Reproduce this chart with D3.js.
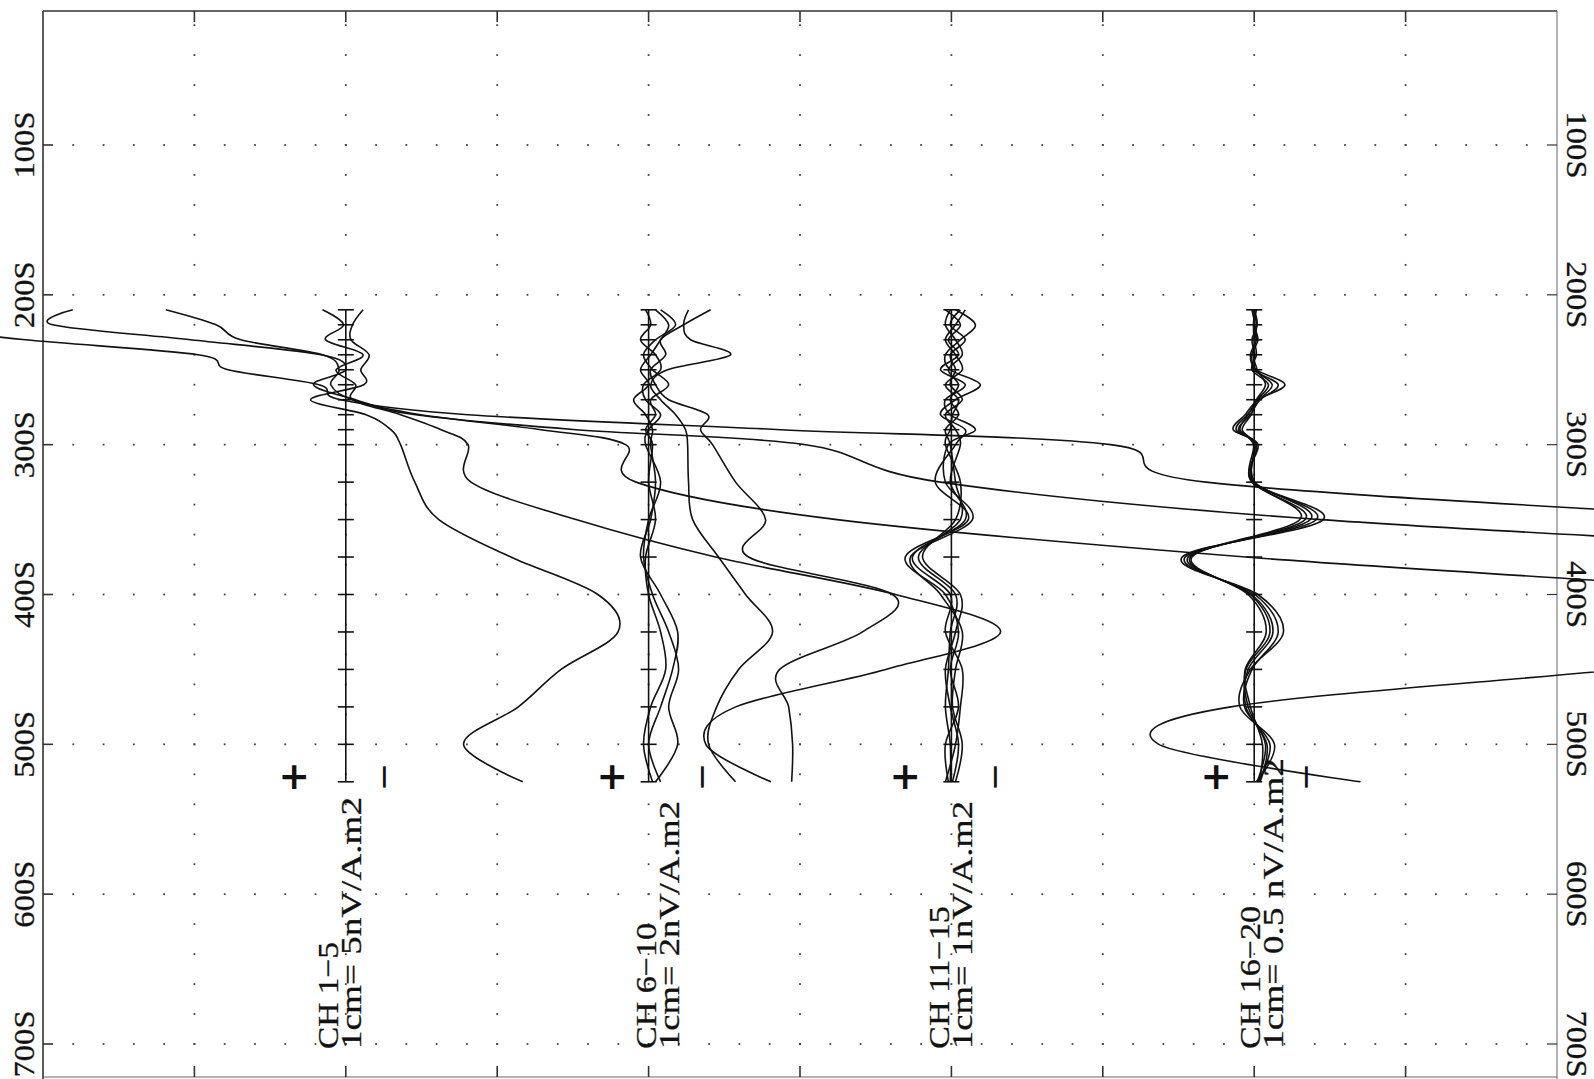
<!DOCTYPE html>
<html><head><meta charset="utf-8">
<script src="https://cdn.jsdelivr.net/npm/d3@7"></script>
<style>html,body{margin:0;padding:0;background:#fff;} svg{display:block;}</style>
</head><body>
<svg id="chart" width="1594" height="1079"></svg>
<script>
// ---- data ----
const stations = [210,220,230,240,250,260,270,280,290,300,325,350,375,400,425,450,475,500,525];
const rowStations = [100,200,300,400,500,600,700];
const rowLabels = ["100S","200S","300S","400S","500S","600S","700S"];
const groupNames = ["CH 1\u22125","CH 6\u221210","CH 11\u221215","CH 16\u221220"];
const groupScaleLabels = ["1cm= 5nV/A.m2","1cm= 2nV/A.m2","1cm= 1nV/A.m2","1cm= 0.5 nV/A.m2"];
const groupNvPerCm = [5,2,1,0.5];

// channel amplitudes, nV/A.m2 (positive plots to the left of its baseline)
const ch01 = [80.7,60.4,42.7,19.7,15.7,3.6,0.7,-16.3,-58.0,-102.0,-114.7,-190.0,-274.0,-354.0,-394.0,-367.0,-327.0,-301.0,-327.0];
const ch02 = [36.4,39.1,20.7,3.3,0.0,4.3,-1.3,-9.3,-30.7,-61.3,-79.3,-130.0,-220.0,-314.0,-354.0,-327.0,-287.0,-261.0,-287.0];
const ch03 = [24.0,17.3,14.0,3.1,0.9,2.0,-0.9,-10.0,-26.0,-37.3,-38.7,-65.5,-120.0,-191.3,-220.7,-170.0,-118.0,-108.4,-135.3];
const ch04 = [3.1,0.3,2.7,-2.3,1.3,-1.3,-0.9,-7.3,-12.7,-16.3,-16.7,-30.7,-49.3,-73.3,-87.3,-72.0,-52.0,-48.0,-56.7];
const ch05 = [-2.3,-0.9,-0.7,-3.1,-2.0,-2.4,4.7,-2.7,-6.0,-7.3,-9.2,-12.4,-22.0,-33.6,-36.3,-28.7,-23.0,-15.7,-23.6];
const ch06 = [-3.31,-1.87,-0.64,-0.91,-0.11,-0.37,-1.07,-3.15,-2.77,-3.41,-4.64,-6.24,-5.33,-13.01,-11.41,-6.99,-7.47,-7.68,-7.63];
const ch07 = [-2.13,-1.87,-2.24,-4.37,-1.01,-0.11,-0.64,-1.44,-1.97,-2.08,-2.13,-2.35,-3.73,-5.17,-6.61,-4.80,-3.63,-3.20,-4.64];
const ch08 = [-0.37,-1.07,-0.64,-0.11,0.43,0.00,0.80,0.16,-0.21,-0.11,-0.37,-0.11,0.43,-0.64,-1.55,-1.28,-0.64,0.00,-0.64];
const ch09 = [0.16,-0.11,0.43,-0.37,-0.64,0.27,0.16,-0.64,0.00,0.16,-0.64,0.00,0.27,-0.21,-1.07,-1.60,-1.07,-1.55,-0.37];
const ch10 = [-0.64,-1.44,-0.37,0.27,-0.21,-1.07,-0.11,-0.37,0.16,-0.21,0.00,-0.37,0.16,0.00,-0.64,-0.91,-0.11,0.27,-0.21];
const ch11 = [-0.11,-0.64,-0.24,0.16,0.03,-0.77,-0.11,0.29,-0.37,-0.11,0.43,-0.45,1.23,0.16,-0.19,0.03,-0.19,0.16,0.08];
const ch12 = [0.16,-0.24,0.08,-0.19,0.29,-0.37,0.16,0.03,-0.64,0.08,0.16,-0.56,1.09,0.29,-0.29,-0.11,-0.03,-0.29,-0.11];
const ch13 = [-0.24,0.03,-0.37,0.03,-0.11,0.03,-0.29,0.16,-0.11,-0.24,0.03,-0.37,1.04,0.03,0.16,-0.29,-0.24,-0.11,0.16];
const ch14 = [0.03,0.16,-0.11,-0.29,0.08,-0.19,0.03,-0.19,0.16,0.03,-0.11,-0.24,0.88,-0.11,0.03,0.08,0.16,0.03,0.03];
const ch15 = [-0.37,-0.11,0.16,-0.11,-0.29,0.16,-0.19,-0.03,0.03,0.16,-0.24,-0.11,0.77,-0.24,-0.11,0.16,0.03,-0.19,-0.03];
const ch16 = [-0.03,0.00,-0.05,0.03,-0.03,-0.41,-0.05,0.12,0.28,-0.05,0.03,-0.92,0.96,-0.05,-0.39,0.05,0.19,-0.27,-0.03];
const ch17 = [0.00,-0.04,0.03,-0.01,0.01,-0.32,-0.08,0.09,0.24,-0.03,0.01,-0.83,0.92,-0.01,-0.32,0.03,0.13,-0.21,-0.05];
const ch18 = [0.03,-0.01,-0.03,0.05,-0.01,-0.24,-0.07,0.05,0.21,-0.01,-0.01,-0.75,0.88,0.03,-0.25,0.08,0.11,-0.17,-0.08];
const ch19 = [-0.01,0.01,0.00,-0.03,0.03,-0.19,-0.04,0.08,0.19,0.01,0.03,-0.68,0.85,0.05,-0.21,0.11,0.08,-0.15,-0.04];
const ch20 = [0.01,-0.03,-0.01,0.01,-0.04,-0.15,-0.03,0.04,0.16,0.00,0.00,-0.61,0.83,0.08,-0.16,0.12,0.05,-0.11,-0.07];
const channels = [ch01,ch02,ch03,ch04,ch05,ch06,ch07,ch08,ch09,ch10,ch11,ch12,ch13,ch14,ch15,ch16,ch17,ch18,ch19,ch20];

// ---- layout ----
const svg = d3.select("#chart");
const frame = {left:43, right:1557, top:11, bottom:1077};
const y = d3.scaleLinear().domain([100,700]).range([145,1044]);
const col = d3.scaleLinear().domain([0,10]).range([frame.left, frame.right]);
const pxPerCm = 37.5;
const groupCols = [2,4,6,8];
const annShift = [0,15,6,14];
const FONT = "'Liberation Serif','Times New Roman',serif";

svg.append("rect").attr("width",1594).attr("height",1079).attr("fill","#fff");

// dotted grid
const dots = [];
rowStations.forEach(s => d3.range(1,50).forEach(k => dots.push([col(k/5), y(s)])));
d3.range(1,10).forEach(c => {
  for (let s = 20; s <= 720; s += 20) {
    const yy = y(s);
    if (yy > frame.top + 6 && yy < frame.bottom - 6) dots.push([col(c), yy]);
  }
});
svg.append("g").attr("fill","#444").selectAll("rect").data(dots).join("rect")
  .attr("x", d => d[0]-0.9).attr("y", d => d[1]-0.9).attr("width",1.8).attr("height",1.8);

// frame
const fg = svg.append("g").attr("stroke","#333").attr("fill","none");
fg.append("line").attr("x1",frame.left).attr("x2",frame.right).attr("y1",frame.top).attr("y2",frame.top).attr("stroke-width",1.6);
fg.append("line").attr("x1",frame.left).attr("x2",frame.left).attr("y1",frame.top).attr("y2",frame.bottom+5).attr("stroke-width",1.6);
fg.append("line").attr("x1",frame.right).attr("x2",frame.right).attr("y1",frame.top).attr("y2",frame.bottom+5).attr("stroke-width",1).attr("stroke","#666");
fg.append("line").attr("x1",frame.left).attr("x2",frame.right).attr("y1",frame.bottom).attr("y2",frame.bottom).attr("stroke-width",1).attr("stroke","#666");
// ticks
const cols = d3.range(1,10);
fg.selectAll(".tt").data(cols).join("line").attr("class","tt").attr("x1",d=>col(d)).attr("x2",d=>col(d)).attr("y1",frame.top).attr("y2",frame.top+11).attr("stroke-width",1.6);
fg.selectAll(".tb").data(cols).join("line").attr("class","tb").attr("x1",d=>col(d)).attr("x2",d=>col(d)).attr("y1",frame.bottom-11).attr("y2",frame.bottom).attr("stroke-width",1.6);
fg.selectAll(".tl").data(rowStations).join("line").attr("class","tl").attr("x1",frame.left).attr("x2",frame.left+10).attr("y1",d=>y(d)).attr("y2",d=>y(d)).attr("stroke-width",1.6);
fg.selectAll(".tr").data(rowStations).join("line").attr("class","tr").attr("x1",frame.right-10).attr("x2",frame.right).attr("y1",d=>y(d)).attr("y2",d=>y(d)).attr("stroke-width",1.2);

// station labels
const lab = svg.append("g").attr("font-family",FONT).attr("font-size",30).attr("fill","#111")
  .attr("stroke","#111").attr("stroke-width",0.3);
lab.selectAll(".ll").data(rowStations).join("text").attr("class","ll")
  .attr("transform",d=>`translate(34,${y(d)}) rotate(-90)`).attr("text-anchor","middle")
  .attr("textLength",67).attr("lengthAdjust","spacingAndGlyphs").text((d,i)=>rowLabels[i]);
lab.selectAll(".rl").data(rowStations).join("text").attr("class","rl")
  .attr("transform",d=>`translate(1567,${y(d)}) rotate(90)`).attr("text-anchor","middle")
  .attr("textLength",67).attr("lengthAdjust","spacingAndGlyphs").text((d,i)=>rowLabels[i]);

// baselines
const bg = svg.append("g").attr("stroke","#111").attr("stroke-width",1.6);
groupCols.forEach(c => {
  const bx = col(c);
  bg.append("line").attr("x1",bx).attr("x2",bx).attr("y1",y(stations[0])).attr("y2",y(stations[stations.length-1]));
  bg.selectAll(null).data(stations).join("line").attr("x1",bx-8).attr("x2",bx+8).attr("y1",d=>y(d)).attr("y2",d=>y(d));
});

// curves
const cg = svg.append("g").attr("fill","none").attr("stroke","#111").attr("stroke-width",1.6).attr("stroke-linejoin","round");
channels.forEach((vals, i) => {
  const g = Math.floor(i/5);
  const bx = col(groupCols[g]);
  const xs = d3.scaleLinear().domain([0, groupNvPerCm[g]]).range([bx, bx - pxPerCm]);
  const line = d3.line().x(d => xs(d[1])).y(d => y(d[0])).curve(d3.curveCatmullRom.alpha(0));
  cg.append("path").attr("d", line(stations.map((s,k)=>[s, vals[k]])));
});

// group annotations
const line1Len = [107,126,143,143];
const line2Len = [252,248,248,291];
const ag = svg.append("g").attr("font-family",FONT).attr("fill","#111");
groupCols.forEach((c,g) => {
  const bx = col(c) + annShift[g];
  ag.append("text").attr("transform",`translate(${bx-8},1049) rotate(-90)`).attr("font-size",30)
    .attr("stroke","#111").attr("stroke-width",0.3)
    .attr("textLength",line1Len[g]).attr("lengthAdjust","spacingAndGlyphs").text(groupNames[g]);
  ag.append("text").attr("transform",`translate(${bx+15},1049) rotate(-90)`).attr("font-size",30)
    .attr("stroke","#111").attr("stroke-width",0.3)
    .attr("textLength",line2Len[g]).attr("lengthAdjust","spacingAndGlyphs").text(groupScaleLabels[g]);
  ag.append("text").attr("transform",`translate(${bx-53},777) rotate(-90)`).attr("font-size",38)
    .attr("font-family","'DejaVu Sans',sans-serif").attr("font-weight","bold")
    .attr("text-anchor","middle").attr("dominant-baseline","central").text("+");
  ag.append("text").attr("transform",`translate(${bx+37},777) rotate(-90)`).attr("font-size",34)
    .attr("font-family","'DejaVu Sans',sans-serif")
    .attr("text-anchor","middle").attr("dominant-baseline","central").text("\u2212");
});
</script>
</body></html>
